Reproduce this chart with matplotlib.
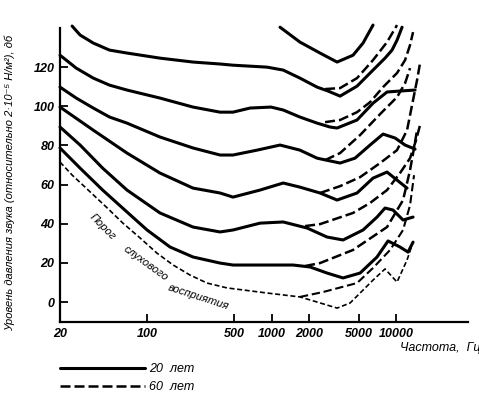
import matplotlib
matplotlib.use('Agg')
import matplotlib.pyplot as plt

plt.rcParams['font.family'] = ['Liberation Sans', 'DejaVu Sans']

# solid curves: 20 years (Hz, dB)
f_120 = [25, 29, 37, 50, 69, 127, 234, 386, 490, 920, 1240, 1690, 2320, 2840, 3550, 4860, 6530, 8150, 9280, 10180, 11170]
db_120 = [141, 136.4, 132.3, 128.7, 127.2, 124.6, 122.6, 121.6, 121.0, 120.0, 118.5, 114.4, 109.8, 107.8, 105.2, 110.3, 118.5, 124.6, 128.7, 133.8, 140.4]

f_top = [1170, 1690, 2450, 3360, 4510, 5430, 6530]
db_top = [140.4, 132.8, 127.2, 122.6, 126.1, 132.3, 141.5]

f_100 = [20, 27, 37, 50, 69, 127, 234, 386, 490, 671, 990, 1240, 1690, 2320, 2950, 3360, 4860, 6530, 8460, 10760, 14210]
db_100 = [126.1, 119.5, 114.4, 110.8, 108.3, 104.2, 99.6, 97.0, 97.0, 99.1, 99.6, 98.1, 94.5, 91.4, 89.4, 88.9, 93.0, 101.6, 107.3, 107.8, 108.3]

f_80 = [20, 27, 37, 50, 69, 127, 234, 386, 490, 765, 1170, 1690, 2320, 3550, 4680, 6180, 7860, 9810, 11810, 14210]
db_80 = [109.8, 104.2, 99.1, 94.5, 91.4, 84.3, 78.7, 75.1, 75.1, 77.6, 80.2, 77.6, 73.5, 71.0, 73.5, 80.2, 85.8, 83.8, 80.2, 78.1]

f_60 = [20, 37, 69, 127, 234, 386, 490, 808, 1240, 1690, 2450, 3360, 4860, 6530, 8460, 10180, 12250]
db_60 = [99.6, 87.8, 76.1, 65.9, 58.2, 55.7, 53.6, 57.2, 60.8, 58.7, 55.7, 52.1, 55.7, 63.3, 66.4, 62.3, 58.2]

f_40 = [20, 29, 44, 69, 127, 234, 386, 490, 808, 1240, 1930, 2790, 3750, 5430, 7030, 8150, 9450, 11380, 13690]
db_40 = [89.4, 80.2, 68.4, 57.2, 45.5, 38.3, 35.8, 36.8, 40.3, 40.9, 37.8, 33.2, 31.7, 36.8, 43.4, 48.0, 47.0, 41.9, 43.4]

f_20 = [20, 29, 44, 69, 100, 153, 234, 386, 490, 920, 1490, 2040, 2790, 3750, 5140, 7030, 8620, 10760, 12480, 13690]
db_20 = [78.7, 68.4, 57.2, 46.0, 36.8, 28.1, 23.0, 19.9, 18.9, 18.9, 18.9, 17.9, 14.8, 12.3, 14.8, 23.0, 31.2, 28.1, 25.5, 30.6]

# hearing threshold, 20 years
f_thr = [20, 25, 35, 48, 64, 88, 120, 162, 221, 303, 439, 920, 1690, 2320, 3360, 4270, 5430, 6530, 8150, 10180, 12250, 13690]
db_thr = [71.5, 64.9, 56.2, 48.0, 40.3, 32.7, 25.0, 18.9, 13.8, 9.7, 7.2, 4.6, 2.6, 0.0, -3.1, -0.5, 6.1, 11.2, 16.9, 10.2, 21.5, 30.6]

# dashed curves: 60 years (only where they leave the solid ones)
f_120o = [2690, 3550, 4860, 6530, 8460, 10180]
db_120o = [108.8, 109.3, 114.4, 123.6, 132.8, 141.5]

f_100o = [2690, 3550, 4860, 6180, 7860, 10180, 11810, 12950, 13690]
db_100o = [91.9, 93.0, 97.0, 102.1, 109.8, 117.0, 123.6, 131.3, 137.9]

f_80o = [2690, 3550, 5140, 7440, 10180, 11810, 12950]
db_80o = [72.5, 76.1, 85.3, 96.0, 104.7, 111.8, 119.5]

f_60o = [2450, 3550, 5140, 7440, 10180, 12250, 13690, 14740, 15580]
db_60o = [55.7, 59.2, 63.8, 71.0, 77.6, 87.8, 103.2, 113.4, 122.1]

f_40o = [1860, 2450, 4510, 6180, 8460, 10760, 12950, 14470, 15580]
db_40o = [38.8, 39.8, 45.5, 50.6, 57.2, 65.9, 73.5, 82.7, 90.4]

f_20o = [1860, 2450, 4510, 8460, 11380, 12950, 13940, 14740]
db_20o = [18.4, 19.9, 26.6, 38.3, 52.1, 67.4, 78.7, 87.8]

f_thro = [1690, 2590, 4860, 6530, 8950, 11380, 12950, 13940]
db_thro = [2.6, 5.1, 9.7, 17.4, 26.6, 36.8, 49.5, 64.8]

xticks = [20, 100, 500, 1000, 2000, 5000, 10000]
yticks = [0, 20, 40, 60, 80, 100, 120]

fig = plt.figure(figsize=(4.79, 3.96), dpi=100)
ax = fig.add_axes([0.1253, 0.1869, 0.8517, 0.7424])

solid = dict(color='black', lw=2.2, solid_capstyle='round', clip_on=False)
dashed = dict(color='black', lw=1.8, ls=(0, (4, 1.6)), clip_on=False)

h_solid = None
for f, d in [(f_120, db_120), (f_top, db_top), (f_100, db_100), (f_80, db_80),
             (f_60, db_60), (f_40, db_40), (f_20, db_20)]:
    ln, = ax.plot(f, d, **solid)
    h_solid = h_solid or ln

h_dash = None
for f, d in [(f_120o, db_120o), (f_100o, db_100o), (f_80o, db_80o),
             (f_60o, db_60o), (f_40o, db_40o), (f_20o, db_20o)]:
    ln, = ax.plot(f, d, **dashed)
    h_dash = h_dash or ln

ax.plot(f_thr, db_thr, color='black', lw=1.2, ls=(0, (3, 1.6)), clip_on=False)
ax.plot(f_thro, db_thro, color='black', lw=1.5, ls=(0, (4, 1.8)), clip_on=False)

ax.set_xscale('log')
ax.set_xlim(20, 37800)
ax.set_ylim(-10.2, 140)
ax.set_xticks(xticks)
ax.set_xticklabels([str(t) for t in xticks])
ax.minorticks_off()
ax.set_yticks(yticks)
ax.tick_params(direction='in', length=6, width=1.3, labelsize=9, pad=4)
for lab in ax.get_xticklabels() + ax.get_yticklabels():
    lab.set_fontstyle('italic')
    lab.set_fontweight('bold')
for s in ['top', 'right']:
    ax.spines[s].set_visible(False)
for s in ['left', 'bottom']:
    ax.spines[s].set_linewidth(1.6)

# label along the hearing threshold
tkw = dict(fontsize=8, style='italic', ha='center', va='center')
ax.text(44, 38.3, 'Порог', rotation=-45, **tkw)
ax.text(97, 19.9, 'слухового', rotation=-36, **tkw)
ax.text(261, 2.3, 'восприятия', rotation=-18, **tkw)

fig.text(10 / 479, 1 - 183 / 396, 'Уровень давления звука (относительно 2·10⁻⁵ Н/м²), дб',
         rotation=90, ha='center', va='center', fontsize=8, style='italic')
fig.text(400 / 479, 1 - 348 / 396, 'Частота,  Гц', ha='left', va='center',
         fontsize=9, style='italic')

fig.legend([h_solid, h_dash], ['20  лет', '60  лет'], loc='upper left',
           bbox_to_anchor=(60 / 479, 1 - 363 / 396), frameon=False,
           handlelength=6.8, handletextpad=0.3, labelspacing=0.5,
           borderpad=0, borderaxespad=0, prop=dict(style='italic', size=9))

fig.savefig('out.png', dpi=100)
